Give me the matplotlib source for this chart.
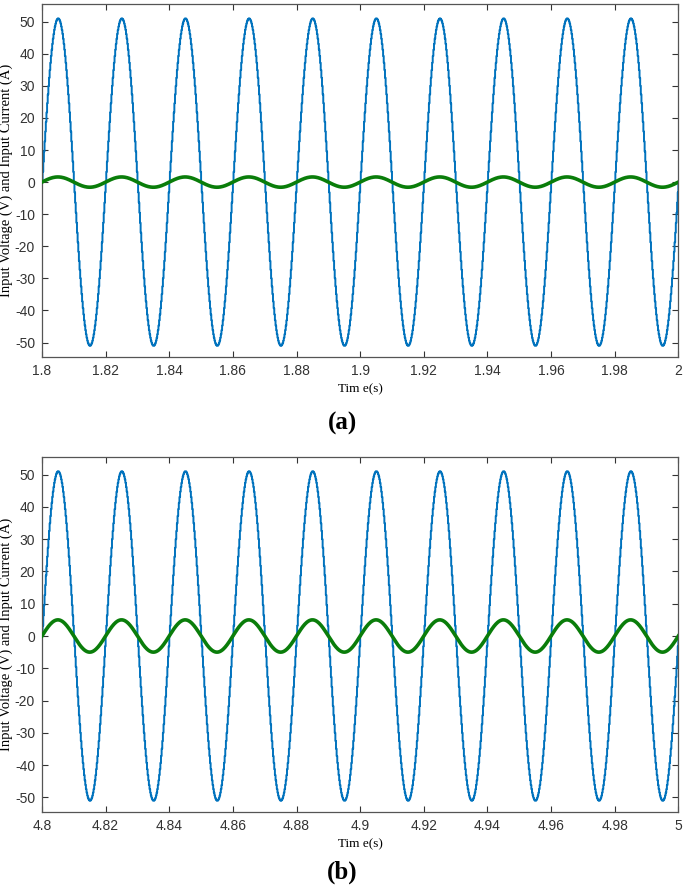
import numpy as np
import matplotlib
matplotlib.use("Agg")
import matplotlib.pyplot as plt

# values
freq = 50.0                    # Hz (peaks every 0.02 s)
v_peak = 51.0                  # input voltage amplitude (V), both panels
i_peak_a = 1.6                 # input current amplitude (A), panel (a)
i_peak_b = 5.0                 # input current amplitude (A), panel (b)
t_start = [1.8, 4.8]
t_end = [2.0, 5.0]
panel_tags = ["(a)", "(b)"]
yticks = [-50, -40, -30, -20, -10, 0, 10, 20, 30, 40, 50]
xtick_labels_a = ["1.8", "1.82", "1.84", "1.86", "1.88", "1.9", "1.92", "1.94", "1.96", "1.98", "2"]
xtick_labels_b = ["4.8", "4.82", "4.84", "4.86", "4.88", "4.9", "4.92", "4.94", "4.96", "4.98", "5"]
i_peaks = [i_peak_a, i_peak_b]
xtick_labels = [xtick_labels_a, xtick_labels_b]

blue = "#0072BD"
green = "#0a7d0a"
dt = 2e-4  # simulation sample step

fig = plt.figure(figsize=(6.85, 8.88), dpi=100)
# axes boxes [left, bottom, width, height] in figure fractions
boxes = [[0.0613, 0.598, 0.929, 0.3975], [0.0613, 0.0856, 0.929, 0.400]]
tag_y = [0.523, 0.018]

for k in range(2):
    ax = fig.add_axes(boxes[k])
    t = np.arange(t_start[k], t_end[k] + dt / 2, dt)
    ph = 2 * np.pi * freq * (t - t_start[k])
    v = v_peak * np.sin(ph)
    i = i_peaks[k] * np.sin(ph)

    ax.plot(t, v, color=blue, lw=1.4, drawstyle="steps-post", zorder=2)
    ax.plot(t, i, color=green, lw=2.6, zorder=3)

    ax.set_xlim(t_start[k], t_end[k])
    ax.set_ylim(-54.5, 55.5)
    ax.set_yticks(yticks)
    ax.set_yticklabels([str(y) for y in yticks], family="Liberation Sans", fontsize=10)
    xt = np.linspace(t_start[k], t_end[k], 11)
    ax.set_xticks(xt)
    ax.set_xticklabels(xtick_labels[k], family="Liberation Sans", fontsize=10)
    ax.tick_params(direction="in", top=True, right=True, length=4, width=0.8,
                   colors="#333333", pad=5)
    for s in ax.spines.values():
        s.set_color("#555555")
        s.set_linewidth(0.9)

    ax.set_xlabel("Tim e(s)", family="Liberation Serif", fontsize=9.5, labelpad=4)
    ax.set_ylabel("Input Voltage (V) and Input Current (A)", family="Liberation Serif",
                  fontsize=10.5, labelpad=1)
    fig.text(0.5, tag_y[k], panel_tags[k], ha="center", va="center",
             family="Liberation Serif", fontweight="bold", fontsize=18)

fig.savefig("out.png", dpi=100)
